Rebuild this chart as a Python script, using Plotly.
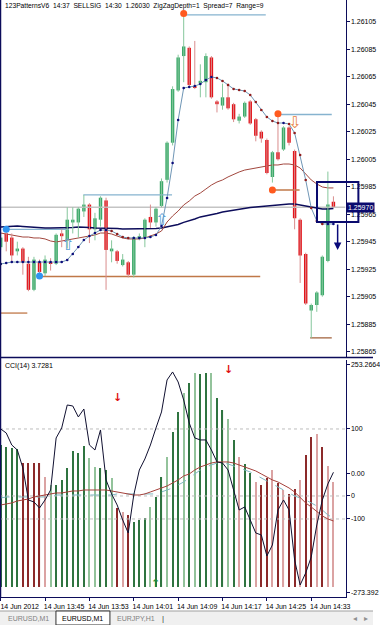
import plotly.graph_objects as go

# ---------------- data ----------------
bar_index = list(range(61))
time_tick_bars = [0, 8, 16, 24, 32, 40, 48, 56]
time_tick_labels = ["14 Jun 2012", "14 Jun 13:45", "14 Jun 13:53", "14 Jun 14:01",
                    "14 Jun 14:09", "14 Jun 14:17", "14 Jun 14:25", "14 Jun 14:33"]

opens = [1.25941, 1.25951, 1.25948, 1.25938, 1.25940, 1.25929, 1.25910, 1.25930, 1.25922, 1.25930,
         1.25929, 1.25951, 1.25946, 1.25959, 1.25959, 1.25967, 1.25972, 1.25954, 1.25961, 1.25975,
         1.25938, 1.25938, 1.25928, 1.25930, 1.25921, 1.25947, 1.25948, 1.25963, 1.25959, 1.25971,
         1.25990, 1.26017, 1.26055, 1.26080, 1.26086, 1.26058, 1.26060, 1.26061, 1.26079, 1.26047,
         1.26044, 1.26050, 1.26045, 1.26033, 1.26036, 1.26047, 1.26034, 1.26025, 1.26019, 1.25992,
         1.26010, 1.26012, 1.26028, 1.26011, 1.25961, 1.25936, 1.25895, 1.25899, 1.25906, 1.25931,
         1.25974]
highs = [1.25951, 1.25953, 1.25951, 1.25945, 1.25941, 1.25934, 1.25934, 1.25932, 1.25935, 1.25933,
         1.25951, 1.25954, 1.25970, 1.25970, 1.25970, 1.25979, 1.25973, 1.25966, 1.25978, 1.25977,
         1.25946, 1.25939, 1.25936, 1.25931, 1.25949, 1.25951, 1.25962, 1.25972, 1.25970, 1.25991,
         1.26018, 1.26058, 1.26081, 1.26111, 1.26087, 1.26091, 1.26074, 1.26082, 1.26080, 1.26048,
         1.26060, 1.26060, 1.26046, 1.26038, 1.26047, 1.26048, 1.26035, 1.26026, 1.26020, 1.26011,
         1.26038, 1.26029, 1.26029, 1.26012, 1.25962, 1.25937, 1.25900, 1.25909, 1.25935, 1.25996,
         1.25978]
lows = [1.25939, 1.25938, 1.25930, 1.25935, 1.25921, 1.25909, 1.25909, 1.25919, 1.25920, 1.25924,
        1.25928, 1.25941, 1.25940, 1.25951, 1.25948, 1.25963, 1.25944, 1.25946, 1.25956, 1.25910,
        1.25930, 1.25929, 1.25927, 1.25919, 1.25919, 1.25946, 1.25941, 1.25955, 1.25956, 1.25970,
        1.25988, 1.26015, 1.26054, 1.26061, 1.26058, 1.26056, 1.26050, 1.26050, 1.26049, 1.26039,
        1.26041, 1.26041, 1.26032, 1.26031, 1.26035, 1.26030, 1.26018, 1.26017, 1.25994, 1.25988,
        1.26004, 1.26011, 1.26015, 1.25954, 1.25915, 1.25899, 1.25875, 1.25894, 1.25905, 1.25930,
        1.25970]
closes = [1.25948, 1.25945, 1.25935, 1.25940, 1.25930, 1.25910, 1.25932, 1.25923, 1.25932, 1.25929,
          1.25950, 1.25949, 1.25961, 1.25961, 1.25969, 1.25972, 1.25954, 1.25962, 1.25977, 1.25939,
          1.25940, 1.25931, 1.25932, 1.25921, 1.25948, 1.25949, 1.25961, 1.25959, 1.25969, 1.25989,
          1.26017, 1.26056, 1.26079, 1.26087, 1.26059, 1.26057, 1.26062, 1.26080, 1.26050, 1.26045,
          1.26050, 1.26042, 1.26034, 1.26036, 1.26046, 1.26031, 1.26022, 1.26020, 1.25995, 1.26010,
          1.26005, 1.26028, 1.26017, 1.25962, 1.25935, 1.25900, 1.25899, 1.25908, 1.25934, 1.25972,
          1.25970]

fast_ma = [1.259288, 1.259295, 1.259302, 1.259302, 1.259302, 1.259302, 1.259302, 1.259302, 1.259302, 1.259302,
           1.259302, 1.259302, 1.259317, 1.259360, 1.259411, 1.259462, 1.259491, 1.259513, 1.259535, 1.259535,
           1.259528, 1.259506, 1.259484, 1.259477, 1.259477, 1.259477, 1.259477, 1.259484, 1.259499, 1.259564,
           1.259768, 1.260022, 1.260335, 1.260568, 1.260575, 1.260582, 1.260597, 1.260626, 1.260648, 1.260641,
           1.260619, 1.260590, 1.260561, 1.260553, 1.260546, 1.260517, 1.260466, 1.260408, 1.260357, 1.260328,
           1.260313, 1.260313, 1.260306, 1.260241, 1.260081, 1.259899, 1.259695, 1.259601, 1.259579, 1.259579,
           1.259579]
mid_ma = [1.259513, 1.259506, 1.259499, 1.259491, 1.259484, 1.259484, 1.259477, 1.259477, 1.259470, 1.259455,
          1.259448, 1.259455, 1.259462, 1.259470, 1.259477, 1.259484, 1.259491, 1.259499, 1.259513, 1.259513,
          1.259506, 1.259491, 1.259477, 1.259470, 1.259470, 1.259470, 1.259477, 1.259491, 1.259506, 1.259528,
          1.259593, 1.259637, 1.259673, 1.259717, 1.259746, 1.259782, 1.259804, 1.259833, 1.259862, 1.259884,
          1.259899, 1.259921, 1.259942, 1.259957, 1.259971, 1.259979, 1.259986, 1.259993, 1.260001, 1.260008,
          1.260008, 1.260015, 1.260015, 1.260008, 1.259986, 1.259942, 1.259899, 1.259870, 1.259848, 1.259841,
          1.259841]
slow_ma = [1.259557, 1.259561, 1.259564, 1.259564, 1.259561, 1.259557, 1.259557, 1.259553, 1.259550, 1.259550,
           1.259550, 1.259550, 1.259550, 1.259553, 1.259557, 1.259557, 1.259553, 1.259550, 1.259550, 1.259550,
           1.259550, 1.259546, 1.259542, 1.259542, 1.259542, 1.259542, 1.259542, 1.259542, 1.259546, 1.259550,
           1.259557, 1.259564, 1.259575, 1.259590, 1.259601, 1.259615, 1.259630, 1.259637, 1.259644, 1.259655,
           1.259666, 1.259673, 1.259681, 1.259688, 1.259695, 1.259699, 1.259702, 1.259706, 1.259710, 1.259713,
           1.259717, 1.259721, 1.259724, 1.259724, 1.259717, 1.259710, 1.259702, 1.259695, 1.259688, 1.259688,
           1.259691]

bid_price = 1.25970
price_ticks = [1.25865, 1.25885, 1.25905, 1.25925, 1.25945, 1.25965, 1.25985,
               1.26005, 1.26025, 1.26045, 1.26065, 1.26085, 1.26105]

# pattern level lines: start bar, end bar, price, kind
level_start = [33.0, 49.7, 14.9, 0.9, 7.0, -0.1, 48.7, 55.8]
level_end = [47.8, 59.7, 30.9, 12.3, 46.8, 4.8, 53.9, 59.7]
level_price = [1.26110, 1.260375, 1.25979, 1.25954, 1.259197, 1.258931, 1.259826, 1.25875]
level_kind = ["high", "high", "high", "high", "low", "low", "low", "base"]

# pattern pivots
pivot_bar = [33, 50, 49, 1, 7]
pivot_price = [1.26111, 1.26038, 1.259826, 1.25954, 1.25920]
pivot_kind = ["top", "top", "top", "bottom", "bottom"]

buy_arrow_bar = [12, 29]
buy_arrow_price = [1.259433, 1.259608]
sell_arrow_bar = [53]
sell_arrow_price = [1.260317]

box_bars = [57.04, 64.5]
box_prices = [1.259593, 1.259884]
signal_bar = 60.76
signal_from, signal_to = 1.259586, 1.25939

# lower window: CCI(14) + histogram
cci = [100, 91.1, 64.4, 53.3, 13.3, -57.8, -62.2, -75.6, -57.8, -35.6,
       80, 102.2, 153.3, 151.1, 126.7, 144.4, 64.4, 53.3, 97.8, -13.3,
       -44.4, -68.9, -102.2, -131.1, -46.7, 8.9, 33.3, 64.4, 102.2, 137.8,
       208.9, 226.7, 204.4, 164.4, 113.3, 80, 75.6, 75.6, 53.3, 26.7,
       24.4, 8.9, -35.6, -80, -73.3, -102.2, -131.1, -135.6, -182.2, -157.8,
       -80, -57.8, -80, -191.1, -246.7, -220, -184.4, -113.3, -57.8, -22.2,
       3.7281]
cci_slow = [-68.9, -66.7, -64.4, -60, -57.8, -55.6, -51.1, -48.9, -46.7, -44.4,
            -42.2, -42.2, -40, -37.8, -37.8, -35.6, -35.6, -35.6, -35.6, -35.6,
            -37.8, -40, -42.2, -44.4, -46.7, -46.7, -44.4, -40, -35.6, -31.1,
            -26.7, -20, -13.3, -4.4, 0, 8.9, 15.6, 20, 24.4, 26.7,
            26.7, 26.7, 24.4, 20, 15.6, 11.1, 6.7, 0, -6.7, -13.3,
            -17.8, -24.4, -31.1, -40, -53.3, -64.4, -73.3, -84.4, -93.3, -100,
            -104.4]
cci_fast = [-53.3, -51.1, -51.1, -51.1, -51.1, -51.1, -51.1, -51.1, -51.1, -51.1,
            -46.7, -46.7, -46.7, -46.7, -46.7, -46.7, -46.7, -46.7, -46.7, -46.7,
            -46.7, -44.4, -44.4, -44.4, -44.4, -44.4, -44.4, -44.4, -44.4, -40,
            -35.6, -31.1, -24.4, -17.8, -8.9, 0, 8.9, 15.6, 20, 24.4,
            24.4, 22.2, 17.8, 13.3, 8.9, 4.4, -2.2, -8.9, -15.6, -22.2,
            -28.9, -35.6, -42.2, -48.9, -53.3, -57.8, -64.4, -71.1, -80, -91.1,
            -97.8]
hist = [64.4, 60, 57.8, 55.6, 24.4, 24.4, 24.4, 24.4, -6.7, -24.4,
        -24.4, -13.3, 13.3, 51.1, 46.7, 62.2, 35.6, 15.6, 13.3, 8.9,
        -8.9, -75.6, -84.4, -91.1, -106.7, -102.2, -97.8, -73.3, -51.1, -6.7,
        37.8, 93.3, 137.8, 180, 202.2, 224.4, 222.2, 224.4, 224.4, 168.9,
        142.2, 122.2, 75.6, 37.8, 22.2, 2.2, -17.8, -24.4, -8.9, 8.9,
        -20, -35.6, -44.4, -33.3, -13.3, 42.2, 82.2, 88.9, 60, 17.8,
        -17.8]
hist_state = "GGGGRRRRrgGGGGGGggGGgRrRGGGgGGgGGgGgGGgGGgGrGGrRRrRrRRrRRrRrr"
hist_base = -251.1
cci_levels = [100, -48.9, -100]
cci_tick_vals = [242.2, 100, 0, -48.9, -100, -264.4]
cci_tick_text = ["253.2664", "100", "0.00", "0", "-100", "-273.392"]
down_sig_bar, down_sig_val = [21, 41], [171, 233]
up_sig_bar, up_sig_val = [28], [-244]

# ---------------- styling ----------------
FONT = "Liberation Sans"
NAVY = "#0C0C5A"
BULL, BEAR = "#3BA96A", "#E3141B"
BULL_WICK, BEAR_WICK = "#86C79C", "#D98D8D"
W, H = 380, 625
PLOT_W = 352
XR = [-0.124, 62.18]
YR = [1.2586114, 1.2612078]


def xpaper(i):
    return (i - XR[0]) / (XR[1] - XR[0]) * PLOT_W / W


fig = go.Figure()

# bid line
fig.add_trace(go.Scatter(x=[XR[0], XR[1]], y=[bid_price, bid_price], mode="lines",
                         line=dict(color="#C4C4C4", width=1.5), xaxis="x", yaxis="y"))

# level lines
kind_color = {"high": "#86B3CF", "low": "#C07848", "base": "#A0603A"}
for s, e, p, k in zip(level_start, level_end, level_price, level_kind):
    fig.add_trace(go.Scatter(x=[s, e], y=[p, p], mode="lines",
                             line=dict(color=kind_color[k], width=1.3), xaxis="x", yaxis="y"))

# moving averages
fig.add_trace(go.Scatter(x=bar_index, y=slow_ma, mode="lines", line=dict(color=NAVY, width=1.4),
                         xaxis="x", yaxis="y"))
fig.add_trace(go.Scatter(x=bar_index, y=mid_ma, mode="lines", line=dict(color="#A2473E", width=1),
                         xaxis="x", yaxis="y"))

# wicks
bx, by, rx, ry = [], [], [], []
for i, o, h, l, c in zip(bar_index, opens, highs, lows, closes):
    if c >= o:
        bx += [i, i, None]; by += [l, h, None]
    else:
        rx += [i, i, None]; ry += [l, h, None]
fig.add_trace(go.Scatter(x=bx, y=by, mode="lines", line=dict(color=BULL_WICK, width=1),
                         xaxis="x", yaxis="y"))
fig.add_trace(go.Scatter(x=rx, y=ry, mode="lines", line=dict(color=BEAR_WICK, width=1),
                         xaxis="x", yaxis="y"))

# bodies
fig.add_trace(go.Bar(x=bar_index,
                     base=[min(o, c) for o, c in zip(opens, closes)],
                     y=[max(abs(c - o), 0.000008) for o, c in zip(opens, closes)],
                     width=0.62,
                     marker=dict(color=[BULL if c >= o else BEAR for o, c in zip(opens, closes)],
                                 line=dict(width=0)),
                     xaxis="x", yaxis="y"))

# fast MA with dots
dot_colors = [NAVY] + ["#0C0C7A" if fast_ma[k] >= fast_ma[k - 1] else "#8E1C1C"
                       for k in range(1, len(fast_ma))]
fig.add_trace(go.Scatter(x=bar_index, y=fast_ma, mode="lines+markers",
                         line=dict(color="#6F96B6", width=1),
                         marker=dict(size=2.6, color=dot_colors),
                         xaxis="x", yaxis="y"))

# pivots
fig.add_trace(go.Scatter(x=pivot_bar, y=pivot_price, mode="markers",
                         marker=dict(size=7, color=["#FF5A1F" if k == "top" else "#2F95F0" for k in pivot_kind]),
                         xaxis="x", yaxis="y"))

# ---------------- lower window ----------------
hist_col = {"G": "#2F7440", "g": "#93C39B", "R": "#8C2A2A", "r": "#DBA3A3"}
fig.add_trace(go.Bar(x=bar_index, base=hist_base, y=[v - hist_base for v in hist], width=0.2,
                     marker=dict(color=[hist_col[s] for s in hist_state], line=dict(width=0)),
                     xaxis="x2", yaxis="y2"))
for lv in cci_levels:
    fig.add_trace(go.Scatter(x=[XR[0], XR[1]], y=[lv, lv], mode="lines",
                             line=dict(color="#BDBDBD", width=1, dash="dot"), xaxis="x2", yaxis="y2"))
fig.add_trace(go.Scatter(x=bar_index, y=cci_fast, mode="lines",
                         line=dict(color="#7FB8C0", width=1, dash="dash"), xaxis="x2", yaxis="y2"))
fig.add_trace(go.Scatter(x=bar_index, y=cci_slow, mode="lines",
                         line=dict(color="#A5403A", width=1), xaxis="x2", yaxis="y2"))
fig.add_trace(go.Scatter(x=bar_index, y=cci, mode="lines",
                         line=dict(color="#101030", width=1), xaxis="x2", yaxis="y2"))

# ---------------- annotations ----------------
ann = []
sp = "\u00a0\u00a0"
title = sp.join(["123PatternsV6", "14:37", "SELLSIG", "14:30", "1.26030",
                 "ZigZagDepth=1", "Spread=7", "Range=9"])
ann.append(dict(x=3 / W, y=1 - 6 / H, xref="paper", yref="paper", text=title, showarrow=False,
                xanchor="left", yanchor="middle", font=dict(size=6.7, color="black", family=FONT)))
ann.append(dict(x=3 / W, y=1 - 366 / H, xref="paper", yref="paper", text="CCI(14) 3.7281",
                showarrow=False, xanchor="left", yanchor="middle",
                font=dict(size=7, color="black", family=FONT)))
ann.append(dict(x=PLOT_W / W, y=bid_price, xref="paper", yref="y", text="1.25970", showarrow=False,
                xanchor="left", yanchor="middle", bgcolor="#0A0A6E", borderpad=1,
                font=dict(size=7, color="white", family=FONT)))
for b, p in zip(buy_arrow_bar, buy_arrow_price):
    ann.append(dict(x=b, y=p, xref="x", yref="y", text="\u21e7", showarrow=False,
                    xanchor="center", yanchor="middle",
                    font=dict(size=16, color="#5E9FD6", family="DejaVu Sans")))
for b, p in zip(sell_arrow_bar, sell_arrow_price):
    ann.append(dict(x=b, y=p, xref="x", yref="y", text="\u21e9", showarrow=False,
                    xanchor="center", yanchor="middle",
                    font=dict(size=16, color="#E8823E", family="DejaVu Sans")))
ann.append(dict(x=signal_bar, y=signal_to, ax=signal_bar, ay=signal_from, xref="x", yref="y",
                axref="x", ayref="y", text="", showarrow=True, arrowhead=2, arrowsize=1,
                arrowwidth=1.5, arrowcolor="#0A0A7A"))
for b, v in zip(down_sig_bar, down_sig_val):
    ann.append(dict(x=b, y=v, xref="x2", yref="y2", text="<b>\u2193</b>", showarrow=False,
                    xanchor="center", yanchor="middle",
                    font=dict(size=11, color="#E01010", family="DejaVu Sans")))
for b, v in zip(up_sig_bar, up_sig_val):
    ann.append(dict(x=b, y=v, xref="x2", yref="y2", text="<b>\u2191</b>", showarrow=False,
                    xanchor="center", yanchor="middle",
                    font=dict(size=11, color="#1F8A3A", family="DejaVu Sans")))
# tabs
tab_y = 1 - 618.5 / H
tabs = [(29, "EURUSD,M1", "#808080", 7), (84, "EURUSD,M1", "black", 7),
        (139, "EURJPY,H1", "#808080", 7), (166, "|", "#404040", 8)]
for tx, tt, tc, ts in tabs:
    ann.append(dict(x=tx / W, y=tab_y, xref="paper", yref="paper", text=tt, showarrow=False,
                    xanchor="center", yanchor="middle", font=dict(size=ts, color=tc, family=FONT)))
for tx, tt in [(362, "\u25c2"), (373, "\u25b8")]:
    ann.append(dict(x=tx / W, y=tab_y, xref="paper", yref="paper", text=tt, showarrow=False,
                    xanchor="center", yanchor="middle",
                    font=dict(size=8, color="#909090", family="DejaVu Sans")))

shapes = [
    dict(type="rect", xref="paper", yref="paper", x0=0, x1=1, y0=0, y1=1 - 611 / H,
         fillcolor="#F0F0F0", line=dict(width=0), layer="below"),
    dict(type="line", xref="paper", yref="paper", x0=0, x1=1, y0=1 - 611 / H, y1=1 - 611 / H,
         line=dict(color="#A0A0A0", width=1)),
    dict(type="rect", xref="paper", yref="paper", x0=57 / W, x1=112 / W, y0=0, y1=1 - 611 / H,
         fillcolor="white", line=dict(color="#303030", width=1)),
    dict(type="line", xref="paper", yref="paper", x0=0.5 / W, x1=0.5 / W, y0=1 - 597 / H, y1=1,
         line=dict(color=NAVY, width=1.5)),
    dict(type="line", xref="paper", yref="paper", x0=0, x1=1, y0=1 - 357.5 / H, y1=1 - 357.5 / H,
         line=dict(color=NAVY, width=1.5)),
    dict(type="rect", xref="paper", yref="y", x0=xpaper(box_bars[0]), x1=xpaper(box_bars[1]),
         y0=box_prices[0], y1=box_prices[1], line=dict(color="#0A0A6E", width=2), layer="above"),
]

fig.update_layout(
    width=W, height=H, margin=dict(l=0, r=0, t=0, b=0),
    paper_bgcolor="white", plot_bgcolor="white", showlegend=False, barmode="overlay",
    hovermode=False, font=dict(family=FONT, size=7, color="black"),
    xaxis=dict(domain=[0, PLOT_W / W], range=XR, anchor="y", showticklabels=False, ticks="",
               showgrid=False, zeroline=False, showline=False),
    yaxis=dict(domain=[1 - 357 / H, 1], range=YR, anchor="x", side="right",
               tickvals=price_ticks, ticktext=[f"{v:.5f}" for v in price_ticks],
               ticks="outside", ticklen=3, tickcolor=NAVY, showline=True, linecolor=NAVY,
               linewidth=1, showgrid=False, zeroline=False,
               tickfont=dict(size=7, color="black", family=FONT)),
    xaxis2=dict(domain=[0, PLOT_W / W], range=XR, anchor="y2", tickvals=time_tick_bars,
                ticktext=time_tick_labels, ticks="outside", ticklen=3, tickcolor=NAVY,
                showline=True, linecolor=NAVY, linewidth=1, showgrid=False, zeroline=False,
                ticklabelshift=19, ticklabelstandoff=0, tickangle=0,
                tickfont=dict(size=7, color="black", family=FONT)),
    yaxis2=dict(domain=[1 - 597 / H, 1 - 360 / H], range=[-273.392, 253.2664], anchor="x2",
                side="right", tickvals=cci_tick_vals, ticktext=cci_tick_text, ticks="outside",
                ticklen=3, tickcolor=NAVY, showline=True, linecolor=NAVY, linewidth=1,
                showgrid=False, zeroline=False, tickfont=dict(size=7, color="black", family=FONT)),
    annotations=ann, shapes=shapes,
)

fig.write_html("out.html")
